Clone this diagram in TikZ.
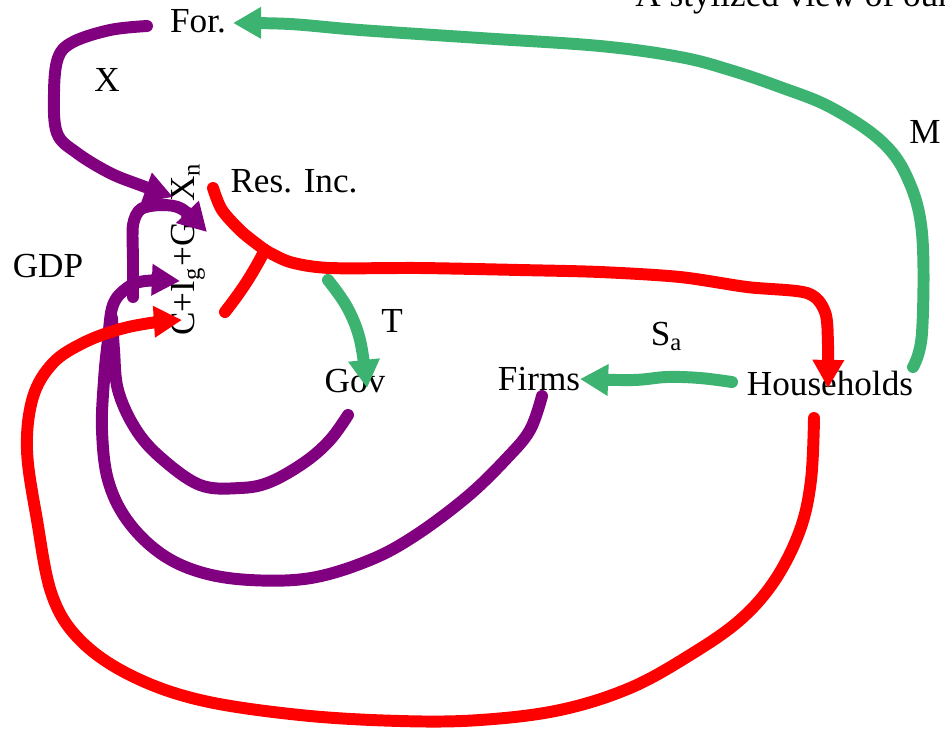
\documentclass[tikz,border=0pt]{standalone}
\usepackage{fontspec}
\setmainfont{Liberation Serif}
\usetikzlibrary{arrows.meta, positioning}
\definecolor{econ-purple}{RGB}{128,0,128}
\definecolor{econ-green}{RGB}{60,179,113}
\definecolor{econ-red}{RGB}{255,0,0}

\begin{document}
\begin{tikzpicture}[x=0.01cm, y=-0.01cm,
    flow/.style={line width=3.4pt, line cap=round, line join=round},
    arr/.style={-{Triangle[length=8pt, width=8.5pt]}}]
	\useasboundingbox (0,0) rectangle (945,729);
	% sectors
	\node[anchor=base] (for) at (198,32) {For.};
	\node[anchor=base] (res) at (294,192) {Res. Inc.};
	\node[anchor=base] (gov) at (355,392) {Gov};
	\node[anchor=base] (firms) at (539,390) {Firms};
	\node[anchor=base] (hh) at (830,395) {Households};
	\node[rotate=90] (gdp) at (188,249) {C+I\textsubscript{g}+G+X\textsubscript{n}};
	\node[anchor=base west] (title) at (623,6) {A stylized view of our};
	% flow labels
	\node[anchor=base] (lx) at (107,91) {X};
	\node[anchor=base] (lgdp) at (48,277) {GDP};
	\node[anchor=base] (lm) at (925,143) {M};
	\node[anchor=base] (lt) at (392,332) {T};
	\node[anchor=base] (lsa) at (667,345) {S\textsubscript{a}};
	% ends of the flows
	\coordinate (m-out) at (913,367);
	\coordinate (m-in) at (233,23);
	\coordinate (x-out) at (147,26);
	\coordinate (x-in) at (173,197);
	\coordinate (g-out) at (133,297);
	\coordinate (g-in) at (207,232);
	\coordinate (i-in) at (180,281);
	\coordinate (firms-out) at (542,396);
	\coordinate (gov-out) at (348,415);
	\coordinate (join) at (112,318);
	\coordinate (hh-out) at (814,418);
	\coordinate (c-in) at (182,320);
	\coordinate (res-out) at (213,188);
	\coordinate (split) at (265,250);
	\coordinate (leak) at (225,312);
	\coordinate (hh-in) at (828,388);
	\coordinate (t-out) at (328,280);
	\coordinate (t-in) at (367,388);
	\coordinate (sa-out) at (732,382);
	\coordinate (sa-in) at (580,379);
	% purple
	\draw[flow, econ-purple, arr] plot[smooth, tension=0.6] coordinates {(x-out) (110,30) (73,42) (58,58) (54,93) (57,133) (77,153) (110,173) (140,185) (x-in)};
	\draw[flow, econ-purple, arr] plot[smooth, tension=0.5] coordinates {(g-out) (133,260) (133,225) (141,209) (162,205) (182,209) (g-in)};
	\draw[flow, econ-purple] plot[smooth, tension=0.6] coordinates {(gov-out) (330,440) (305,462) (270,482) (240,488) (200,485) (160,457) (135,428) (118,390) (114,350) (join)};
	\draw[flow, econ-purple, arr] plot[smooth, tension=0.6] coordinates {(firms-out) (530,430) (507,458) (468,496) (416,535) (370,560) (311,578) (250,580) (200,572) (160,553) (127,520) (108,480) (102,430) (104,380) (108,340) (113,305) (127,288) (145,281) (i-in)};
	% red
	\draw[flow, econ-red, arr] plot[smooth, tension=0.6] coordinates {(hh-out) (811,480) (800,530) (775,580) (740,620) (690,655) (630,688) (560,710) (480,720) (400,721) (300,715) (200,700) (130,675) (80,640) (52,595) (37,520) (27,450) (33,397) (53,363) (83,343) (117,330) (150,323) (c-in)};
	\draw[flow, econ-red] plot[smooth, tension=0.5] coordinates {(res-out) (222,210) (242,232) (split)};
	\draw[flow, econ-red] (split) to[bend left=5] (leak);
	\draw[flow, econ-red, arr] plot[smooth, tension=0.5] coordinates {(split) (290,262) (330,268) (420,268) (520,270) (600,272) (680,277) (747,287) (807,293) (825,312) (828,345) (hh-in)};
	% green
	\draw[flow, econ-green, arr] plot[smooth, tension=0.6] coordinates {(m-out) (922,333) (922,233) (907,177) (880,140) (830,107) (780,87) (730,70) (680,57) (600,46) (480,38) (360,30) (290,24) (m-in)};
	\draw[flow, econ-green, arr] plot[smooth, tension=0.6] coordinates {(t-out) (347,307) (360,340) (t-in)};
	\draw[flow, econ-green, arr] plot[smooth, tension=0.6] coordinates {(sa-out) (700,378) (667,377) (633,380) (sa-in)};
\end{tikzpicture}
\end{document}
